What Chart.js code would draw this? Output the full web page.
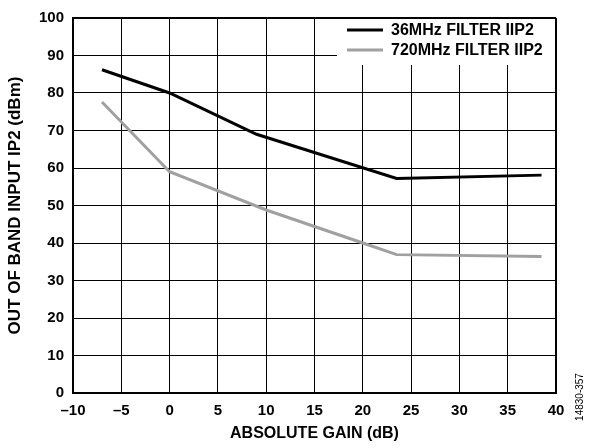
<!DOCTYPE html>
<html>
<head>
<meta charset="utf-8">
<script src="https://cdn.jsdelivr.net/npm/chart.js@4.4.0/dist/chart.umd.min.js"></script>
<style>
  html, body { margin: 0; padding: 0; background: #fff; }
  canvas { display: block; }
</style>
</head>
<body>
<canvas id="chart" width="592" height="448"></canvas>
<script>
// gain (dB) / out of band IP2 (dBm)
const gain36 = [-7, 0, 9, 23.5, 38.5];
const ip2_36 = [86.2, 80, 69, 57.2, 58.1];
const gain720 = [-7, 0, 10, 20, 23.5, 38.5];
const ip2_720 = [77.6, 59, 48.8, 40, 36.9, 36.4];
const seriesNames = ['36MHz FILTER IIP2', '720MHz FILTER IIP2'];
const seriesColors = ['#000000', '#a0a0a0'];
const xTicks = [-10, -5, 0, 5, 10, 15, 20, 25, 30, 35, 40];
const yTicks = [0, 10, 20, 30, 40, 50, 60, 70, 80, 90, 100];

const FONT = '"Liberation Sans", Arial, sans-serif';

const toPts = (xs, ys) => xs.map((x, i) => ({ x: x, y: ys[i] }));

// legend sits inside the plot, top right, on a white box
const boxLegend = {
  id: 'boxLegend',
  afterDatasetsDraw(chart) {
    const ctx = chart.ctx;
    const area = chart.chartArea;
    ctx.save();
    ctx.fillStyle = '#fff';
    ctx.fillRect(337, area.top + 1, area.right - 1 - 337, 65 - area.top - 1);
    chart.data.datasets.forEach((ds, i) => {
      const y = 30 + i * 20;
      ctx.strokeStyle = ds.borderColor;
      ctx.lineWidth = 3;
      ctx.beginPath();
      ctx.moveTo(347, y);
      ctx.lineTo(383, y);
      ctx.stroke();
      ctx.fillStyle = '#000';
      ctx.font = 'bold 16px ' + FONT;
      ctx.textAlign = 'left';
      ctx.textBaseline = 'middle';
      ctx.fillText(ds.label, 391, y + 1);
    });
    // figure id on the right
    ctx.translate(580, 397);
    ctx.rotate(-Math.PI / 2);
    ctx.font = '10px ' + FONT;
    ctx.fillStyle = '#000';
    ctx.textAlign = 'center';
    ctx.textBaseline = 'middle';
    ctx.fillText('14830-357', 0, 0);
    ctx.restore();
  }
};

new Chart(document.getElementById('chart'), {
  type: 'line',
  data: {
    datasets: [
      { label: seriesNames[0], data: toPts(gain36, ip2_36), borderColor: seriesColors[0] },
      { label: seriesNames[1], data: toPts(gain720, ip2_720), borderColor: seriesColors[1] }
    ]
  },
  options: {
    responsive: false,
    animation: false,
    devicePixelRatio: 1,
    layout: { padding: { top: 10, right: 36, left: 0, bottom: 0 } },
    elements: {
      line: { borderWidth: 3, tension: 0, fill: false },
      point: { radius: 0, hoverRadius: 0 }
    },
    plugins: { legend: { display: false }, tooltip: { enabled: false } },
    scales: {
      x: {
        type: 'linear',
        min: -10, max: 40,
        afterFit: s => { s.height = 55; },
        afterBuildTicks: s => { s.ticks = xTicks.map(v => ({ value: v })); },
        ticks: {
          padding: 9,
          color: '#000',
          font: { family: FONT, size: 15, weight: 'bold' },
          callback: v => String(v).replace('-', '\u2013')
        },
        grid: {
          color: '#000',
          lineWidth: c => (c.tick && c.tick.value === 40 ? 2 : 1),
          drawTicks: false
        },
        border: { color: '#000', width: 2 },
        title: {
          display: true,
          text: 'ABSOLUTE GAIN (dB)',
          color: '#000',
          font: { family: FONT, size: 16, weight: 'bold' },
          padding: { top: 0, bottom: 5 }
        }
      },
      y: {
        min: 0, max: 100,
        afterFit: s => { s.width = 73; },
        afterBuildTicks: s => { s.ticks = yTicks.map(v => ({ value: v })); },
        ticks: {
          padding: 9,
          color: '#000',
          font: { family: FONT, size: 15, weight: 'bold' }
        },
        grid: {
          color: '#000',
          lineWidth: c => (c.tick && c.tick.value === 100 ? 2 : 1),
          drawTicks: false
        },
        border: { color: '#000', width: 2 },
        title: {
          display: true,
          text: 'OUT OF BAND INPUT IP2 (dBm)',
          color: '#000',
          font: { family: FONT, size: 17, weight: 'bold' },
          padding: { top: 5, bottom: 0 }
        }
      }
    }
  },
  plugins: [boxLegend]
});
</script>
</body>
</html>
